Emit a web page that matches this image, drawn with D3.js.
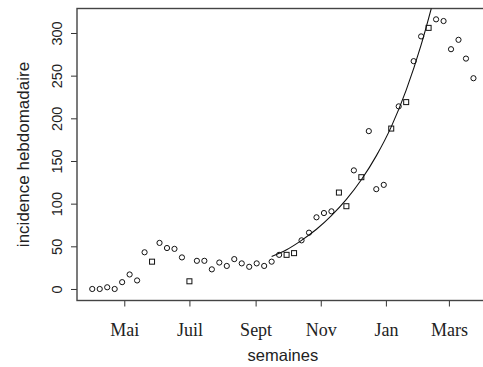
<!DOCTYPE html>
<html>
<head>
<meta charset="utf-8">
<script src="https://cdnjs.cloudflare.com/ajax/libs/d3/7.8.5/d3.min.js"></script>
<style>
  body { margin: 0; background: #fff; }
  #chart { width: 483px; height: 367px; }
</style>
</head>
<body>
<div id="chart"></div>
<script>
// semaines : indice de semaine depuis le 1er avril
const weekIndex = d3.range(52);
const incidence = [0, 0, 2, 0, 8, 17, 10, 43, 32, 54, 48, 47, 37, 9, 33, 33, 23, 31, 27, 35,
    30, 26, 30, 27, 32, 40, 40, 42, 57, 66, 84, 89, 91, 113, 97, 139, 131, 185, 117, 122,
    188, 214, 219, 267, 296, 306, 316, 314, 281, 292, 270, 247];
// o = rond, s = carré
const markerShape = ['o', 'o', 'o', 'o', 'o', 'o', 'o', 'o', 's', 'o', 'o', 'o', 'o', 's', 'o', 'o', 'o', 'o', 'o', 'o',
    'o', 'o', 'o', 'o', 'o', 'o', 's', 's', 'o', 'o', 'o', 'o', 'o', 's', 's', 'o', 's', 'o', 'o', 'o',
    's', 'o', 's', 'o', 'o', 's', 'o', 'o', 'o', 'o', 'o', 'o'];

// courbe ajustée
const fitWeeks = [24, 26, 28, 30, 32, 34, 36, 38, 40, 42, 44, 46];
const fitValues = [38, 46, 57, 70, 86, 105, 128, 156, 190, 233, 286, 350];

const tickDates = ['2018-05-01', '2018-07-01', '2018-09-01', '2018-11-01', '2019-01-01', '2019-03-01'];
const tickLabels = ['Mai', 'Juil', 'Sept', 'Nov', 'Jan', 'Mars'];
const yTicks = [0, 50, 100, 150, 200, 250, 300];

const width = 483, height = 367;
const plotLeft = 77, plotRight = 488.7, plotTop = 8.5, plotBottom = 300.5;
const start = new Date(Date.UTC(2018, 3, 1));
const weekDate = w => new Date(start.getTime() + w * 7 * 86400000);

const svg = d3.select('#chart')
    .append('svg')
    .attr('width', width)
    .attr('height', height);

svg.append('rect').attr('width', width).attr('height', height).attr('fill', '#fff');

const x = d3.scaleUtc()
    .domain([weekDate(-2.04), weekDate(53.04)])
    .range([plotLeft, plotRight]);

const y = d3.scaleLinear()
    .domain([-13.5, 328.7])
    .range([plotBottom, plotTop]);

svg.append('clipPath')
    .attr('id', 'plot-clip')
    .append('rect')
    .attr('x', plotLeft).attr('y', plotTop)
    .attr('width', plotRight - plotLeft).attr('height', plotBottom - plotTop);

// axe y
const yAxis = svg.append('g')
    .attr('transform', `translate(${plotLeft},0)`)
    .call(d3.axisLeft(y).tickValues(yTicks).tickSize(6).tickFormat(d3.format('d')));
yAxis.select('.domain').remove();
yAxis.selectAll('line').attr('stroke', '#333');
yAxis.selectAll('text')
    .attr('font-family', 'Liberation Sans, Arial, sans-serif')
    .attr('font-size', 14.5)
    .attr('fill', '#222')
    .attr('text-anchor', 'middle')
    .attr('dy', 0)
    .attr('x', 0)
    .attr('transform', 'translate(-15.5,0) rotate(-90)');

// axe x
const xAxis = svg.append('g')
    .attr('transform', `translate(0,${plotBottom})`)
    .call(d3.axisBottom(x)
        .tickValues(tickDates.map(d => new Date(d + 'T00:00:00Z')))
        .tickSize(6)
        .tickFormat((d, i) => tickLabels[i]));
xAxis.select('.domain').remove();
xAxis.selectAll('line').attr('stroke', '#333');
xAxis.selectAll('text')
    .attr('font-family', 'Liberation Serif, Times New Roman, serif')
    .attr('font-size', 18)
    .attr('fill', '#222')
    .attr('dy', 0)
    .attr('y', 35.5);

// cadre
svg.append('rect')
    .attr('x', plotLeft).attr('y', plotTop)
    .attr('width', plotRight - plotLeft).attr('height', plotBottom - plotTop)
    .attr('fill', 'none')
    .attr('stroke', '#444')
    .attr('stroke-width', 1.4);

// titres
svg.append('text')
    .attr('transform', `translate(28.5,${(plotTop + plotBottom) / 2}) rotate(-90)`)
    .attr('text-anchor', 'middle')
    .attr('font-family', 'Liberation Sans, Arial, sans-serif')
    .attr('font-size', 17)
    .attr('fill', '#222')
    .text('incidence hebdomadaire');

svg.append('text')
    .attr('x', (plotLeft + plotRight) / 2)
    .attr('y', 361)
    .attr('text-anchor', 'middle')
    .attr('font-family', 'Liberation Sans, Arial, sans-serif')
    .attr('font-size', 16.5)
    .attr('fill', '#222')
    .text('semaines');

const plot = svg.append('g').attr('clip-path', 'url(#plot-clip)');

// courbe
const line = d3.line()
    .x(d => x(weekDate(d[0])))
    .y(d => y(d[1]))
    .curve(d3.curveMonotoneX);

plot.append('path')
    .datum(fitWeeks.map((w, i) => [w, fitValues[i]]))
    .attr('d', line)
    .attr('fill', 'none')
    .attr('stroke', '#111')
    .attr('stroke-width', 1.1);

// points
const points = weekIndex.map(i => ({ week: i, value: incidence[i], shape: markerShape[i] }));

plot.selectAll('circle.pt')
    .data(points.filter(d => d.shape === 'o'))
    .enter()
    .append('circle')
    .attr('class', 'pt')
    .attr('cx', d => x(weekDate(d.week)))
    .attr('cy', d => y(d.value))
    .attr('r', 2.6)
    .attr('fill', 'none')
    .attr('stroke', '#111')
    .attr('stroke-width', 1);

plot.selectAll('rect.pt')
    .data(points.filter(d => d.shape === 's'))
    .enter()
    .append('rect')
    .attr('class', 'pt')
    .attr('x', d => x(weekDate(d.week)) - 2.5)
    .attr('y', d => y(d.value) - 2.5)
    .attr('width', 5)
    .attr('height', 5)
    .attr('fill', 'none')
    .attr('stroke', '#111')
    .attr('stroke-width', 1);
</script>
</body>
</html>
